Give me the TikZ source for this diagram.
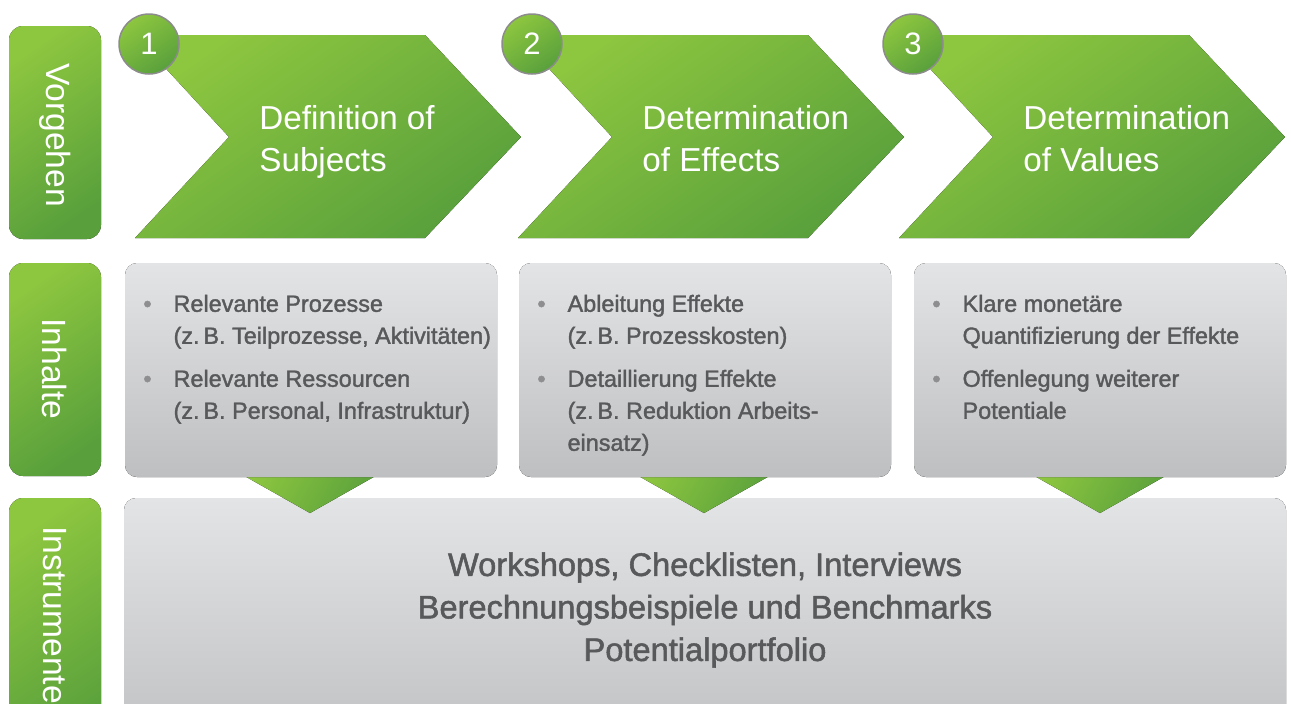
\documentclass[tikz,border=0pt]{standalone}
\usepackage{fontspec}
\setmainfont{Liberation Sans}
\newfontfamily\mittel{Liberation Sans}[FakeBold=1.6]
\usetikzlibrary{positioning}
\usepackage{xcolor}
\definecolor{gruenhell}{HTML}{8DC63F}
\definecolor{gruendunkel}{HTML}{59A03C}
\definecolor{grauhell}{HTML}{E3E4E6}
\definecolor{graudunkel}{HTML}{BEBFC1}
\definecolor{schrift}{HTML}{58595B}
\definecolor{punktgrau}{HTML}{8E8E90}
\definecolor{randgrau}{HTML}{8C8C8C}
\newcommand{\pkt}{{\color{punktgrau}\textbullet}}

\begin{document}
\begin{tikzpicture}[x=0.5pt,y=-0.5pt,
  gruen/.style={top color=gruenhell, bottom color=gruendunkel, shading angle=35},
  grau/.style={top color=grauhell, bottom color=graudunkel},
  seite/.style={rotate=-90, text=white, inner sep=0, font=\fontsize{16.8}{19}\selectfont},
  kreis/.style={circle, draw=randgrau, line width=0.75pt, gruen, minimum size=30pt, inner sep=0,
    text=white, font=\fontsize{15.5}{18}\selectfont},
  schritt/.style={anchor=north west, align=left, inner sep=0, text=white, font=\fontsize{16.6}{21}\selectfont},
  inhalt/.style={anchor=north west, inner sep=0, text=schrift, font=\mittel\fontsize{11.7}{16}\selectfont},
  werkzeug/.style={align=center, inner sep=0, text=schrift, font=\mittel\fontsize{16.3}{21.25}\selectfont}]
\useasboundingbox (0,0) rectangle (1291,703);

\fill[gruen, rounded corners=7pt] (9,26) rectangle (101,239);
\fill[gruen, rounded corners=7pt] (9,263) rectangle (101,476);
\fill[gruen, rounded corners=7pt] (9,498) rectangle (101,760);
\node[seite] (vorgehen) at (55,135) {Vorgehen};
\node[seite] (inhalte) at (55,369) {Inhalte};
\node[seite, anchor=west] (instrumente) at (55,526) {Instrumente};

\foreach \n/\bl/\eins/\zwei in {1/135/Definition of/Subjects, 2/518/Determination/of Effects, 3/899/Determination/of Values} {
  \fill[gruen] (\bl,35) -- (\bl+290,35) -- (\bl+386,137) -- (\bl+290,238) -- (\bl,238) -- (\bl+94,137) -- cycle;
  \node[kreis] (nr\n) at (\bl+14,44) {\n};
  \node[schritt] (schritt\n) at (\bl+124,105) {\eins\\\zwei};
}

\fill[grau, rounded corners=6pt] (124,498) rectangle (1286,760);
\foreach \c in {310,704,1100} {
  \fill[gruen, shading angle=60] (\c-76,470) -- (\c+76,470) -- (\c,513) -- cycle;
}
\foreach \x in {125,519,914} {
  \fill[grau, rounded corners=6pt] (\x,263) rectangle ++(372,214);
}

\node[inhalt] (inhalt1) at (143,289) {\begin{tabular}{@{}l@{\hspace{11pt}}l@{}}
  \pkt & Relevante Prozesse\\ & (z.\,B. Teilprozesse, Aktivitäten)\\[5.5pt]
  \pkt & Relevante Ressourcen\\ & (z.\,B. Personal, Infrastruktur)\end{tabular}};
\node[inhalt] (inhalt2) at (537,289) {\begin{tabular}{@{}l@{\hspace{11pt}}l@{}}
  \pkt & Ableitung Effekte\\ & (z.\,B. Prozesskosten)\\[5.5pt]
  \pkt & Detaillierung Effekte\\ & (z.\,B. Reduktion Arbeits-\\ & einsatz)\end{tabular}};
\node[inhalt] (inhalt3) at (932,289) {\begin{tabular}{@{}l@{\hspace{11pt}}l@{}}
  \pkt & Klare monetäre\\ & Quantifizierung der Effekte\\[5.5pt]
  \pkt & Offenlegung weiterer\\ & Potentiale\end{tabular}};

\node[werkzeug] (werkzeuge) at (705,610) {Workshops, Checklisten, Interviews\\Berechnungsbeispiele und Benchmarks\\Potentialportfolio};
\end{tikzpicture}
\end{document}
